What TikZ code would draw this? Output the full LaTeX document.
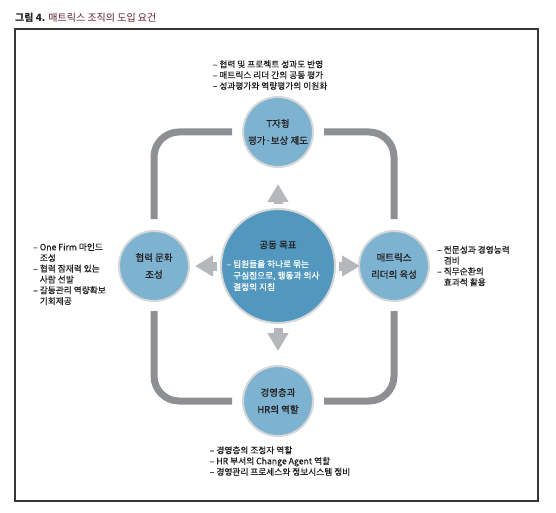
\documentclass[tikz,border=0pt]{standalone}
\usepackage{fontspec}
\setmainfont{Noto Sans CJK KR}
\newfontfamily\notefont{Noto Sans CJK KR}[FakeBold=0.5]
\usepackage{xcolor}
\usetikzlibrary{positioning}
\usetikzlibrary{arrows.meta}

\definecolor{circleblue}{HTML}{7DB2D0}
\definecolor{goalblue}{HTML}{5298BE}
\definecolor{rimgray}{HTML}{D6D7D9}
\definecolor{loopgray}{HTML}{8E8F93}
\definecolor{arrowgray}{HTML}{B5B7BA}
\definecolor{inkdark}{HTML}{231F20}
\definecolor{titlered}{HTML}{5E1F2C}

\begin{document}
\begin{tikzpicture}[x=1pt, y=-1pt,
		outer node/.style={circle, draw=rimgray, line width=2pt, fill=circleblue, minimum size=70pt, inner sep=0pt, align=center, text=inkdark, font=\notefont\fontsize{9.5}{17}\selectfont},
		goal node/.style={circle, draw=rimgray, line width=2pt, fill=goalblue, minimum size=114pt, inner sep=0pt},
		note/.style={align=left, inner sep=0pt, text=inkdark, font=\notefont\fontsize{8.7}{10.8}\selectfont},
		cycle edge/.style={draw=loopgray, line width=7pt, rounded corners=25pt},
		push arrow/.style={draw=arrowgray, line width=9pt, -{Triangle[length=18pt,width=20pt]}}
		]
		\useasboundingbox (0,0) rectangle (556,513);
		% caption and frame
		\node[anchor=base west, inner sep=0pt, font=\fontsize{10}{12}\selectfont, text=inkdark] (caption) at (15,22) {\textbf{그림 4.} \textcolor{titlered}{매트릭스 조직의 도입 요건}};
		\draw[draw=inkdark!90, line width=1.3pt] (15,29) rectangle (538,501);
		
		% nodes
		\node[goal node] (goal) at (278,266) {};
		\node[outer node] (top) at (278,132) {T자형\\평가·보상 제도};
		\node[outer node] (left) at (154,266) {협력 문화\\조성};
		\node[outer node] (right) at (394,266) {매트릭스\\리더의 육성};
		\node[outer node] (bottom) at (278,401) {경영층과\\HR의 역할};
		
		\node[text=inkdark, inner sep=0pt, font=\notefont\fontsize{9.5}{12}\selectfont] (goal title) at ([yshift=21pt]goal.center) {공동 목표};
		\node[note, text=white, font=\notefont\fontsize{8.7}{11.5}\selectfont] (goal note) at ([yshift=-9.5pt, xshift=-5pt]goal.center) {– 팀원들을 하나로 묶는\\\phantom{– }구심점으로, 행동과 의사\\\phantom{– }결정의 지침};
		
		% notes
		\node[note, above=6pt of top, xshift=-8pt] (top note) {– 협력 및 프로젝트 성과도 반영\\– 매트릭스 리더 간의 공동 평가\\– 성과평가와 역량평가의 이원화};
		\node[note, left=12pt of left, yshift=-8pt] (left note) {– One Firm 마인드\\\phantom{– }조성\\– 협력 잠재력 있는\\\phantom{– }사람 선발\\– 갈등관리 역량확보\\\phantom{– }기회제공};
		\node[note, right=7pt of right] (right note) {– 전문성과 경영능력\\\phantom{– }겸비\\– 직무순환의\\\phantom{– }효과적 활용};
		\node[note, below=9pt of bottom, xshift=2pt] (bottom note) {– 경영층의 조정자 역할\\– HR 부서의 Change Agent 역할\\– 경영관리 프로세스와 정보시스템 정비};
		
		% cycle
		\draw[cycle edge] ([xshift=-10pt]top.west) -| ([yshift=11pt]left.north);
		\draw[cycle edge] ([xshift=10pt]top.east) -| ([yshift=11pt]right.north);
		\draw[cycle edge] ([yshift=-9pt]left.south) |- ([xshift=-10pt]bottom.west);
		\draw[cycle edge] ([yshift=-9pt]right.south) |- ([xshift=10pt]bottom.east);
		
		% arrows out of the goal
		\draw[push arrow, shorten <=4pt, shorten >=16pt] (goal) -- (top);
		\draw[push arrow, shorten <=3pt, shorten >=5pt] (goal) -- (left);
		\draw[push arrow, shorten <=3pt, shorten >=-2pt] (goal) -- (right);
		\draw[push arrow, shorten <=4pt, shorten >=14pt] (goal) -- (bottom);
	\end{tikzpicture}
\end{document}
